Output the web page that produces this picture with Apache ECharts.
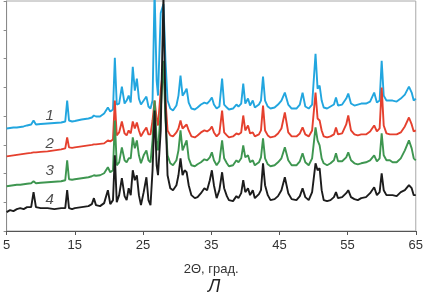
<!DOCTYPE html>
<html><head><meta charset="utf-8">
<script src="https://cdn.jsdelivr.net/npm/echarts@6/dist/echarts.min.js"></script>
<style>html,body{margin:0;padding:0;background:#fff}#c{width:426px;height:296px}</style>
</head><body><div id="c"></div>
<script>
// 2θ grid (degrees), rows of 10
var twoTheta = [
 5, 5.5, 6, 6.5, 7, 7.5, 8, 8.6, 8.95, 9.3,
 10, 11, 12, 13, 13.6, 13.88, 14.15, 14.6, 15, 16,
 17, 17.5, 17.8, 18.1, 18.7, 19.3, 19.85, 20.2, 20.6, 20.87,
 21.15, 21.5, 21.9, 22.3, 22.6, 22.9, 23.2, 23.5, 23.8, 24.1,
 24.4, 24.7, 25.1, 25.5, 25.8, 26.1, 26.4, 26.7, 27.0, 27.2,
 27.6, 28.0, 28.3, 28.6, 29.0, 29.4, 29.9, 30.2, 30.5, 30.8,
 31.1, 31.4, 31.7, 32.1, 32.6, 33.0, 33.5, 34.0, 34.4, 34.8,
 35.1, 35.4, 35.8, 36.2, 36.6, 36.9, 37.3, 37.6, 38.2, 38.7,
 39.0, 39.4, 39.7, 40.0, 40.4, 40.7, 41.1, 41.4, 42.0, 42.3,
 42.6, 42.9, 43.3, 43.7, 44.3, 44.8, 45.3, 45.8, 46.3, 46.8,
 47.5, 48.0, 48.4, 48.8, 49.3, 49.8, 50.3, 50.6, 50.9, 51.2,
 51.5, 52.0, 52.5, 53.0, 53.3, 53.6, 54.2, 54.8, 55.1, 55.5,
 56.0, 56.5, 57.0, 57.7, 58.3, 58.9, 59.3, 59.7, 60.0, 60.3,
 60.7, 61.2, 61.6, 62.2, 62.8, 63.4, 64.0, 64.4, 64.7, 65.0
];
// intensities (offset, arbitrary units)
var curve1 = [
 103,103.5,104,104,104.5,105,106,107,111,107,
 107.5,108,108.5,109,110,131,111,110,110.5,112,
 113,114,116,115,115,118,124,120,122,174,
 127,128,145,128,131,136,129,165,141,153,
 133,127,131,135,125,123,131,241,151,136,
 219,228,171,131,123,121,126,136,156,136,
 139,143,129,123,122,124,127,129,128,131,
 134,127,123,125,153,127,124,122,123,127,
 125,128,148,128,133,126,131,124,127,131,
 155,131,125,123,124,127,131,139,127,123,
 123,127,139,125,123,127,178,143,146,131,
 124,123,125,127,134,126,127,133,138,128,
 126,127,128,128,130,139,129,131,171,136,
 131,131,131,130,133,137,145,139,131,133
];
var curve2 = [
 75,75.5,76,76.5,77,77.5,78,78.5,79,79,
 79.5,80,81,82,83,94,84,83.5,84,85,
 86,86.5,87,87,87.5,88,91,90,92,131,
 96,99,110,98,96,101,98,110,103,109,
 101,95,100,104,97,97,111,131,113,106,
 141,166,131,101,96,95,99,103,111,103,
 105,107,101,95,94,96,99,101,100,102,
 105,99,95,98,121,99,96,94,95,98,
 97,99,116,101,106,98,99,95,97,101,
 126,101,96,94,95,98,103,119,99,95,
 95,98,104,97,95,101,139,113,111,101,
 95,94,95,97,104,97,98,107,116,101,
 97,96,97,97,100,106,100,103,144,106,
 98,97,97,97,99,105,114,107,100,101
];
var curve3 = [
 45,45.5,46,46.5,46.5,47,47.5,48,50,48,
 48.5,49,49.5,50,51,71,52,51.5,52,53,
 54,55,56,55.5,56,58,64,59,61,111,
 66,69,84,71,69,73,73,94,83,91,
 76,68,76,81,71,69,91,131,91,81,
 121,171,111,76,68,66,71,81,101,81,
 86,91,73,66,65,67,69,72,71,74,
 79,71,66,70,91,73,68,65,66,71,
 69,73,86,74,76,69,71,66,69,74,
 93,73,67,65,66,69,73,84,71,66,
 66,70,78,69,66,73,104,91,86,73,
 68,66,68,71,78,70,70,74,79,71,
 68,67,68,69,71,76,70,73,98,76,
 71,71,69,69,73,81,91,83,73,71
];
var curve4 = [
 19,21,20,22,23,22,24,24,39,24,
 23,23,22,23,23,41,23,22,23,24,
 25,27,33,26,25,28,41,27,31,76,
 29,36,53,35,31,43,36,61,51,56,
 36,26,39,54,31,26,61,121,66,56,
 101,236,121,56,43,41,46,56,73,56,
 61,59,46,36,33,34,38,43,41,51,
 61,46,33,41,59,43,35,31,30,35,
 33,38,51,39,43,36,41,33,37,41,
 68,46,36,31,32,35,41,54,38,32,
 31,35,43,34,31,39,68,61,63,41,
 31,30,31,34,39,33,34,38,41,34,
 32,31,33,34,38,44,36,39,58,41,
 36,36,36,35,39,41,46,43,36,36
];
var curveNames = ['1','2','3','4'];
var curveColors = ['#22a6df','#e5402e','#3e9650','#1c1c1c'];
var xTicks = [5, 15, 25, 35, 45, 55, 65];
var labelAt = [[11.3, 116], [11.3, 88], [11.3, 60], [11.3, 31]];

function pairs(ys){ return twoTheta.map(function(x,i){ return [x, ys[i]]; }); }
var curves = [curve1, curve2, curve3, curve4];

var chart = echarts.init(document.getElementById('c'), null, {renderer:'canvas'});
var font = '"Liberation Sans", Arial, sans-serif';
var option = {
  animation: false,
  grid: {left: 4, right: 10, top: 1, bottom: 65, show: true, borderColor: '#a8a8a8', borderWidth: 1},
  xAxis: {
    type: 'value', min: 5, max: 65, interval: 10,
    name: '2\u0398, \u0433\u0440\u0430\u0434.', nameLocation: 'middle', nameGap: 32,
    nameTextStyle: {fontFamily: font, fontSize: 13, color: '#333'},
    axisLine: {lineStyle: {color: '#555', width: 1}},
    axisTick: {show: true, inside: false, length: 4, lineStyle: {color: '#555'}},
    axisLabel: {fontFamily: font, fontSize: 13, color: '#333', margin: 8,
      formatter: function(v){ return xTicks.indexOf(v) >= 0 ? String(v) : ''; }},
    splitLine: {show: false}
  },
  yAxis: {
    type: 'value', min: 0, max: 231, interval: 28.875,
    axisLine: {show: true, lineStyle: {color: '#8a8a8a', width: 1}},
    axisTick: {show: true, inside: false, length: 3, lineStyle: {color: '#8a8a8a'}},
    axisLabel: {show: false},
    splitLine: {show: false}
  },
  series: curves.map(function(c, k){
    return {
      type: 'line', name: curveNames[k], data: pairs(c), showSymbol: false, symbol: 'none',
      clip: true, lineStyle: {color: curveColors[k], width: 1.9}, z: 2 + k
    };
  }).concat([{
    type: 'scatter', data: labelAt.map(function(p, k){ return {value: p, name: curveNames[k]}; }),
    symbolSize: 0, silent: true, z: 10,
    label: {show: true, position: 'inside', formatter: function(p){ return p.name; },
      fontFamily: font, fontSize: 15, fontStyle: 'italic', color: '#222'}
  }]),
  graphic: [{
    type: 'text', left: 208, top: 278,
    style: {text: '\u041b', font: 'italic 18px ' + font, fill: '#222'}
  }]
};
chart.setOption(option);
</script>
</body></html>
